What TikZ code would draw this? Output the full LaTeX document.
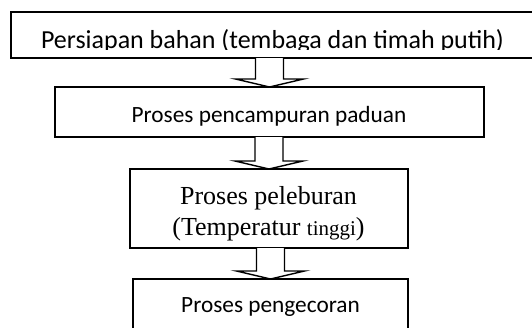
\documentclass[tikz,border=0pt]{standalone}
\usepackage{fontspec}
\setmainfont{Carlito}
\newfontfamily\tnr{Liberation Serif}
\usetikzlibrary{calc}
\tikzset{
  box/.style={draw=black, line width=1.4pt, fill=white, inner sep=0pt, outer sep=0pt},
  lbl/.style={inner sep=0pt, anchor=base, font=\fontsize{23.3}{28}\selectfont},
  serif/.style={inner sep=0pt, anchor=base, font=\tnr\fontsize{26}{31}\selectfont},
  blockarrow/.style={draw=black, line width=1.4pt, fill=white, line join=miter}
}
\begin{document}
\begin{tikzpicture}[x=1pt,y=-1pt]
\useasboundingbox (0,0) rectangle (532,327);
\clip (0,0) rectangle (532,327);
% boxes
\node[box, minimum width=529pt, minimum height=46pt] (b1) at (275.5,35) {};
\node[box, minimum width=429pt, minimum height=50pt] (b2) at (269.5,112) {};
\node[box, minimum width=278pt, minimum height=79pt] (b3) at (269,208.5) {};
\node[box, minimum width=275pt, minimum height=61pt] (b4) at (270.5,309.5) {};
% texts
\begin{scope}
  \clip (12,13) rectangle (531,49);
  \node[lbl, font=\fontsize{26}{30}\selectfont] (t1) at (272.5,48) {Persiapan bahan (tembaga dan timah putih)};
\end{scope}
\node[lbl] (t2) at (269,122) {Proses pencampuran paduan};
\node[serif] (t3a) at (268.5,204) {Proses peleburan};
\node[serif] (t3b) at (268.5,235) {(Temperatur {\fontsize{21}{31}\selectfont tinggi})};
\node[lbl] (t4) at (270.5,312) {Proses pengecoran};
% block arrows
\foreach \src/\dst/\n in {b1/b2/a, b2/b3/b, b3/b4/c}{
  \coordinate (\n l) at ($(\dst.north)+(-14,-8)$);
  \coordinate (\n r) at ($(\dst.north)+(14,-8)$);
  \coordinate (\n wl) at ($(\dst.north)+(-34,-8)$);
  \coordinate (\n wr) at ($(\dst.north)+(34,-8)$);
  \draw[blockarrow] (\n l |- \src.south) -- (\n l) -- (\n wl) -- (\dst.north)
     -- (\n wr) -- (\n r) -- (\n r |- \src.south);
}
\end{tikzpicture}
\end{document}
